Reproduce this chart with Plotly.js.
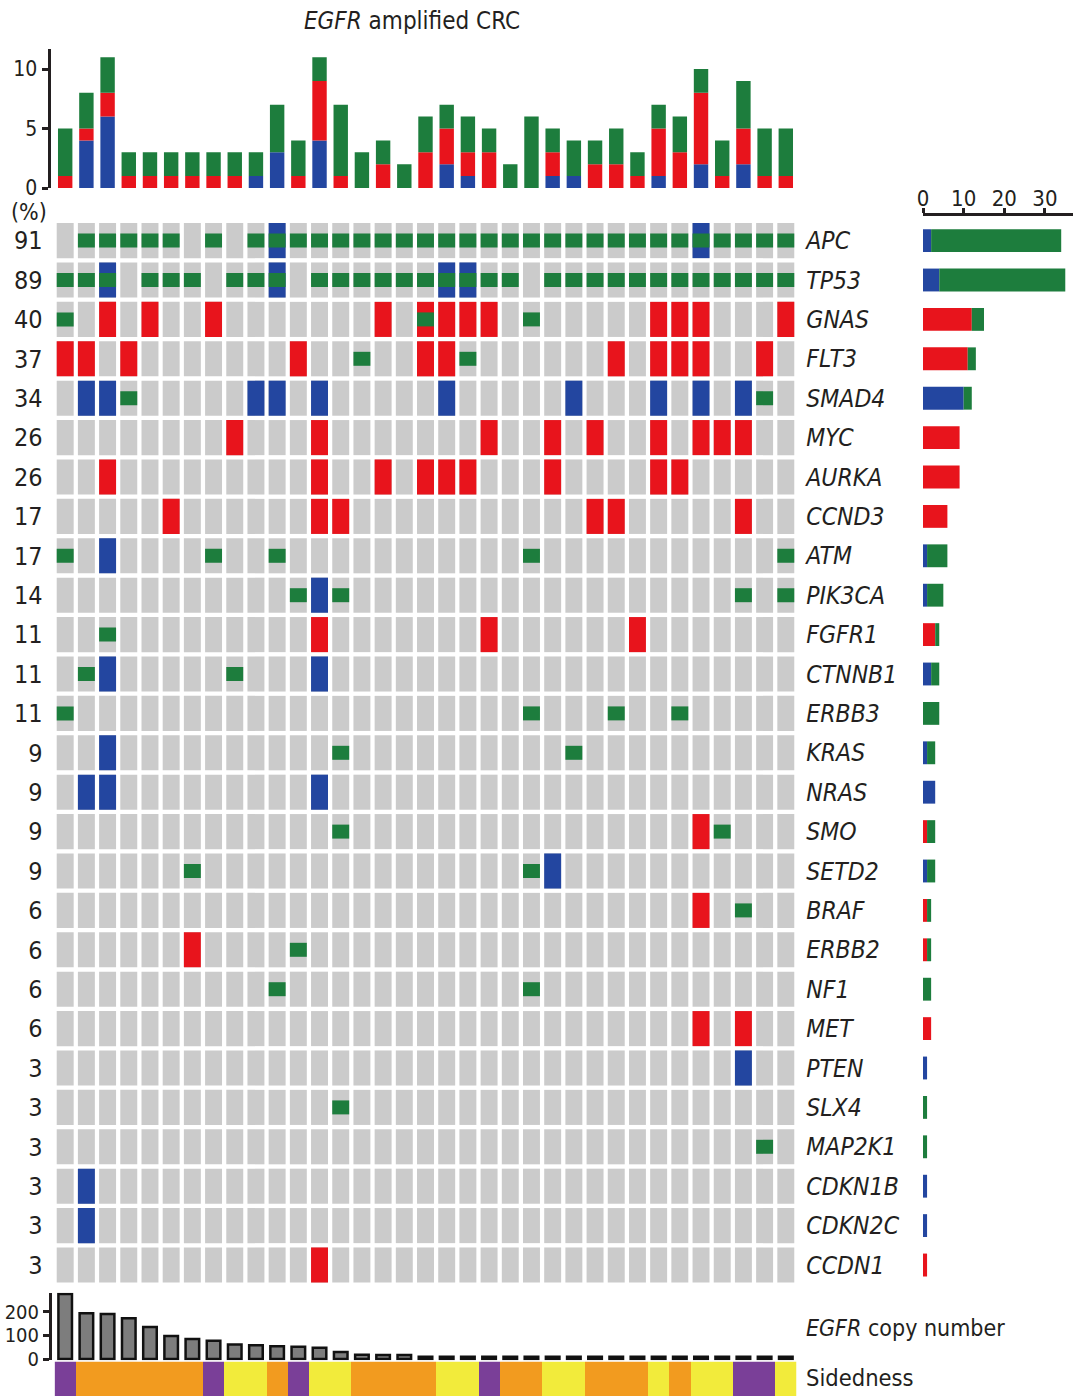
<!DOCTYPE html>
<html>
<head>
<meta charset="utf-8">
<script src="https://cdn.plot.ly/plotly-3.0.1.min.js"></script>
<style>
  html, body { margin: 0; padding: 0; background: #ffffff; }
  #chart { width: 1076px; height: 1399px; }
</style>
</head>
<body>
<div id="chart"></div>
<script>
// ---- data -------------------------------------------------------------
const genes = ['APC', 'TP53', 'GNAS', 'FLT3', 'SMAD4', 'MYC', 'AURKA', 'CCND3', 'ATM',
  'PIK3CA', 'FGFR1', 'CTNNB1', 'ERBB3', 'KRAS', 'NRAS', 'SMO', 'SETD2', 'BRAF', 'ERBB2',
  'NF1', 'MET', 'PTEN', 'SLX4', 'MAP2K1', 'CDKN1B', 'CDKN2C', 'CCDN1'];

const sampleCount = 35;

// sample indices (0-based, left to right) carrying each alteration, one list per gene
const mutated = [
  [1,2,3,4,5,7,9,10,11,12,13,14,15,16,17,18,19,20,21,22,23,24,25,26,27,28,29,30,31,32,33,34], // APC
  [0,1,2,4,5,6,8,9,10,12,13,14,15,16,17,18,19,20,21,23,24,25,26,27,28,29,30,31,32,33,34],     // TP53
  [0,17,22], [14,19], [3,33], [], [], [], [0,7,10,22,34], [11,13,32,34], [2], [1,8],
  [0,22,26,29], [13,24], [], [13,31], [6,22], [32], [11], [10,22], [], [], [13], [33], [], [], []
];
const amplified = [
  [], [], [2,4,7,15,17,18,19,20,28,29,30,34], [0,1,3,11,17,18,26,28,29,30,33], [],
  [8,12,20,23,25,28,30,31,32], [2,12,15,17,18,19,23,28,29], [5,12,13,25,26,32], [], [],
  [12,20,27], [], [], [], [], [30], [], [30], [6], [], [30,32], [], [], [], [], [], [12]
];
const deleted = [
  [10,30], [2,10,18,19], [], [], [1,2,9,10,12,18,24,28,30,32], [], [], [], [2], [12], [],
  [2,12], [], [2], [1,2,12], [], [23], [], [], [], [], [32], [], [], [1], [1], []
];

const egfrCopyNumber = [275, 193, 190, 172, 135, 97, 85, 77, 61, 58, 54, 52, 48, 30, 18, 17, 17,
  10, 10, 10, 10, 10, 10, 10, 10, 10, 10, 10, 10, 10, 10, 10, 10, 10, 10];

const sidedness = ['rectum','left','left','left','left','left','left','rectum','right','right',
  'left','rectum','right','right','left','left','left','left','right','right','rectum','left',
  'left','right','right','left','left','left','right','left','right','right','rectum','rectum','right'];
const sideOrder = ['rectum', 'left', 'right'];

const topTicks = [0, 5, 10];
const rightTicks = [0, 10, 20, 30];
const copyTicks = [0, 100, 200];

// ---- styling ----------------------------------------------------------
const W = 1076, H = 1399;
const GREEN = '#1d7d3d', RED = '#e8141c', BLUE = '#2346a0', GRAY = '#cbcbcb', INK = '#231f20';
const SIDE_COLORS = ['#7a3f98', '#f29b1f', '#f2eb3b'];
const FONT = 'Liberation Sans Narrow, DejaVu Sans Condensed, Arial Narrow, Roboto, sans-serif';

const px = v => v / W;          // horizontal pixel -> paper fraction
const py = v => 1 - v / H;      // vertical pixel -> paper fraction

const gridX = [px(54.6), px(796.4)];
const gridY = [py(1284.7), py(220.9)];
const samples = Array.from({length: sampleCount}, (_, i) => i);
const rows = genes.map((_, i) => i);

// ---- derived counts ---------------------------------------------------
const colDel = samples.map(() => 0), colAmp = samples.map(() => 0), colMut = samples.map(() => 0);
deleted.forEach(r => r.forEach(s => colDel[s]++));
amplified.forEach(r => r.forEach(s => colAmp[s]++));
mutated.forEach(r => r.forEach(s => colMut[s]++));

const rowDel = deleted.map(r => r.length);
const rowAmp = amplified.map(r => r.length);
const rowMut = mutated.map(r => r.length);
const rowPct = genes.map((_, g) => {
  const set = new Set([...mutated[g], ...amplified[g], ...deleted[g]]);
  return String(Math.round(100 * set.size / sampleCount));
});

// ---- oncoprint cells ----------------------------------------------
const CELL_W = 0.8, CELL_H = 0.89, MUT_H = 0.355;

function cellTrace(list, color, h) {
  const x = [], base = [], y = [];
  list.forEach((r, g) => r.forEach(s => { x.push(s); base.push(g - h / 2); y.push(h); }));
  return {type: 'bar', x, y, base, width: CELL_W, marker: {color, line: {width: 0}},
    xaxis: 'x', yaxis: 'y', hoverinfo: 'skip'};
}

const allCells = genes.map(() => samples.slice());
const traces = [
  cellTrace(allCells, GRAY, CELL_H),
  cellTrace(amplified, RED, CELL_H),
  cellTrace(deleted, BLUE, CELL_H),
  cellTrace(mutated, GREEN, MUT_H),
  // carrier for the gene-name axis on the right
  {type: 'scatter', x: [0], y: [0], mode: 'markers', marker: {opacity: 0},
    xaxis: 'x', yaxis: 'y6', hoverinfo: 'skip'}
];

// ---- per-sample stacked bars (top) ---------------------------------
const TOP_W = 0.68;
traces.push(
  {type: 'bar', x: samples, y: colDel, base: samples.map(() => 0), width: TOP_W,
    marker: {color: BLUE}, xaxis: 'x2', yaxis: 'y2', hoverinfo: 'skip'},
  {type: 'bar', x: samples, y: colAmp, base: colDel, width: TOP_W,
    marker: {color: RED}, xaxis: 'x2', yaxis: 'y2', hoverinfo: 'skip'},
  {type: 'bar', x: samples, y: colMut, base: samples.map(i => colDel[i] + colAmp[i]), width: TOP_W,
    marker: {color: GREEN}, xaxis: 'x2', yaxis: 'y2', hoverinfo: 'skip'}
);

// ---- per-gene stacked bars (right) ---------------------------------
const RIGHT_W = 0.58;
traces.push(
  {type: 'bar', orientation: 'h', y: rows, x: rowDel, base: rows.map(() => 0), width: RIGHT_W,
    marker: {color: BLUE}, xaxis: 'x3', yaxis: 'y3', hoverinfo: 'skip'},
  {type: 'bar', orientation: 'h', y: rows, x: rowAmp, base: rowDel, width: RIGHT_W,
    marker: {color: RED}, xaxis: 'x3', yaxis: 'y3', hoverinfo: 'skip'},
  {type: 'bar', orientation: 'h', y: rows, x: rowMut, base: rows.map(g => rowDel[g] + rowAmp[g]), width: RIGHT_W,
    marker: {color: GREEN}, xaxis: 'x3', yaxis: 'y3', hoverinfo: 'skip'}
);

// ---- EGFR copy number (bottom) ---------------------------------------
traces.push({type: 'bar', x: samples, y: egfrCopyNumber, base: samples.map(() => 0), width: 0.64,
  marker: {color: '#7d7d7d', line: {color: '#111111', width: 2.5}},
  xaxis: 'x4', yaxis: 'y4', hoverinfo: 'skip'});

// ---- sidedness strip --------------------------------------------------
traces.push({type: 'heatmap', x: samples, y: [0], z: [sidedness.map(s => sideOrder.indexOf(s))],
  zmin: -0.5, zmax: 2.5, showscale: false, xaxis: 'x5', yaxis: 'y5', hoverinfo: 'skip',
  colorscale: [[0, SIDE_COLORS[0]], [1/3, SIDE_COLORS[0]], [1/3, SIDE_COLORS[1]],
    [2/3, SIDE_COLORS[1]], [2/3, SIDE_COLORS[2]], [1, SIDE_COLORS[2]]]});

// ---- layout -------------------------------------------------------------
const hidden = {visible: false, fixedrange: true};
const sampleRange = [-0.5, sampleCount - 0.5];
const geneRange = [genes.length - 0.5, -0.5];

const layout = {
  width: W, height: H,
  margin: {l: 0, r: 0, t: 0, b: 0, pad: 0},
  paper_bgcolor: '#ffffff', plot_bgcolor: 'rgba(0,0,0,0)',
  barmode: 'overlay', showlegend: false,
  font: {family: FONT, color: INK, size: 21},
  title: {text: '<i>EGFR</i> amplified CRC', x: px(412), xanchor: 'center',
    y: py(21), yanchor: 'middle', font: {family: FONT, size: 24, color: INK}},

  // oncoprint
  xaxis: Object.assign({}, hidden, {domain: gridX, range: sampleRange}),
  yaxis: {domain: gridY, range: geneRange, anchor: 'x', side: 'left', showgrid: false, zeroline: false,
    showline: false, tickmode: 'array', tickvals: rows, ticktext: rowPct,
    ticks: 'outside', ticklen: 6, tickcolor: 'rgba(0,0,0,0)',
    tickfont: {family: FONT, size: 25, color: INK}, fixedrange: true},
  yaxis6: {overlaying: 'y', anchor: 'x', side: 'right', range: geneRange, showgrid: false,
    zeroline: false, showline: false, tickmode: 'array', tickvals: rows,
    ticktext: genes.map(g => '<i>' + g + '</i>'), ticks: 'outside', ticklen: 4,
    tickcolor: 'rgba(0,0,0,0)', tickfont: {family: FONT, size: 24.5, color: INK}, fixedrange: true},

  // top stacked bars
  xaxis2: Object.assign({}, hidden, {domain: gridX, range: sampleRange, anchor: 'y2'}),
  yaxis2: {domain: [py(188), py(48.8)], range: [0, 11.7], anchor: 'free', position: px(48.5),
    showgrid: false, zeroline: false, showline: true, linecolor: INK, linewidth: 3,
    ticks: 'outside', ticklen: 6, tickwidth: 3, tickcolor: INK, tickmode: 'array',
    tickvals: topTicks, tickfont: {family: FONT, size: 21, color: INK}, fixedrange: true},

  // right stacked bars
  xaxis3: {domain: [px(923), px(1073)], range: [0, 36.9], anchor: 'free', position: py(214),
    side: 'top', showgrid: false, zeroline: false, showline: true, linecolor: INK, linewidth: 3,
    ticks: 'outside', ticklen: 5, tickwidth: 3, tickcolor: INK, tickmode: 'array',
    ticklabelstandoff: -7,
    tickvals: rightTicks, tickfont: {family: FONT, size: 22, color: INK}, fixedrange: true},
  yaxis3: Object.assign({}, hidden, {domain: gridY, range: geneRange, anchor: 'x3'}),

  // EGFR copy number
  xaxis4: Object.assign({}, hidden, {domain: gridX, range: sampleRange, anchor: 'y4'}),
  yaxis4: {domain: [py(1360.2), py(1292.8)], range: [-5, 280], anchor: 'free', position: px(50),
    showgrid: false, zeroline: false, showline: true, linecolor: INK, linewidth: 3,
    ticks: 'outside', ticklen: 6, tickwidth: 3, tickcolor: INK, tickmode: 'array',
    tickvals: copyTicks, tickfont: {family: FONT, size: 20, color: INK}, fixedrange: true},

  // sidedness
  xaxis5: Object.assign({}, hidden, {domain: gridX, range: sampleRange, anchor: 'y5'}),
  yaxis5: Object.assign({}, hidden, {domain: [py(1396), py(1361.5)], range: [-0.5, 0.5], anchor: 'x5'}),

  annotations: [
    {text: '(%)', xref: 'paper', yref: 'paper', x: px(29), y: py(212), xanchor: 'center',
      yanchor: 'middle', showarrow: false, font: {family: FONT, size: 23, color: INK}},
    {text: '<i>EGFR</i> copy number', xref: 'paper', yref: 'paper', x: px(804), y: py(1328),
      xanchor: 'left', yanchor: 'middle', showarrow: false, font: {family: FONT, size: 23, color: INK}},
    {text: 'Sidedness', xref: 'paper', yref: 'paper', x: px(804), y: py(1378),
      xanchor: 'left', yanchor: 'middle', showarrow: false, font: {family: FONT, size: 23.5, color: INK}}
  ]
};

Plotly.newPlot('chart', traces, layout, {staticPlot: true, displayModeBar: false});
</script>
</body>
</html>
